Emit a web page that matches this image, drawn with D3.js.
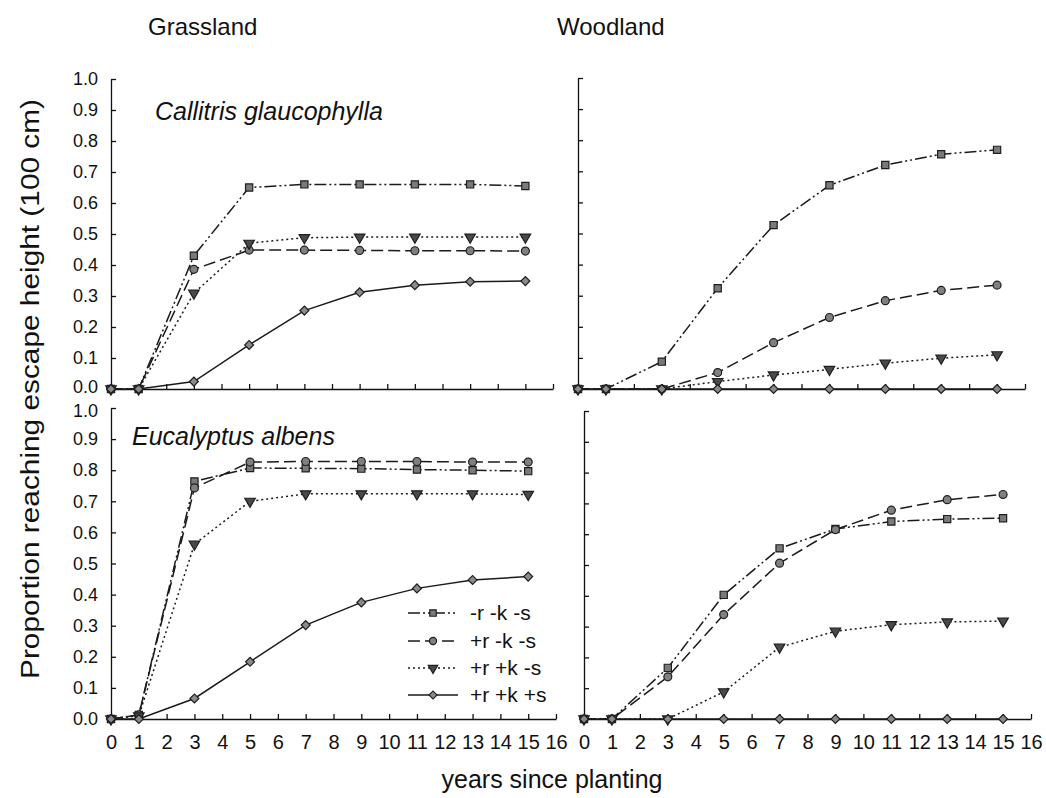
<!DOCTYPE html>
<html>
<head>
<meta charset="utf-8">
<script src="https://cdn.jsdelivr.net/npm/d3@7"></script>
<style>
  body { margin: 0; background: #fff; }
  text { font-family: "Liberation Sans", Arial, sans-serif; fill: #111; }
</style>
</head>
<body>
<div id="chart"></div>
<script>
var w = 1046;
var h = 798;

// years at which the model was sampled
var years = [0, 1, 3, 5, 7, 9, 11, 13, 15];
var treatments = ["-r -k -s", "+r -k -s", "+r +k -s", "+r +k +s"];
var yTicks = [0, 0.1, 0.2, 0.3, 0.4, 0.5, 0.6, 0.7, 0.8, 0.9, 1.0];
var xTicks = d3.range(0, 17);

// Callitris glaucophylla, grassland
var callGrass = [
    [0, 0, 0.43, 0.65, 0.66, 0.66, 0.66, 0.66, 0.655],
    [0, 0, 0.386, 0.448, 0.448, 0.447, 0.446, 0.446, 0.445],
    [0, 0, 0.309, 0.47, 0.488, 0.49, 0.49, 0.49, 0.49],
    [0, 0, 0.024, 0.142, 0.253, 0.312, 0.335, 0.346, 0.348]
];
// Callitris glaucophylla, woodland
var callWood = [
    [0, 0, 0.088, 0.324, 0.527, 0.655, 0.72, 0.755, 0.769],
    [0, 0, 0, 0.053, 0.149, 0.23, 0.284, 0.317, 0.334],
    [0, 0, 0, 0.024, 0.045, 0.063, 0.083, 0.099, 0.11],
    [0, 0, 0, 0, 0, 0, 0, 0, 0]
];
// Eucalyptus albens, grassland
var eucGrass = [
    [0, 0.013, 0.764, 0.807, 0.806, 0.805, 0.802, 0.8, 0.797],
    [0, 0.013, 0.743, 0.826, 0.828, 0.828, 0.828, 0.826, 0.826],
    [0, 0.01, 0.562, 0.7, 0.724, 0.724, 0.724, 0.724, 0.722],
    [0, 0, 0.066, 0.184, 0.302, 0.375, 0.42, 0.447, 0.458]
];
// Eucalyptus albens, woodland
var eucWood = [
    [0, 0, 0.166, 0.403, 0.554, 0.617, 0.641, 0.649, 0.652],
    [0, 0, 0.137, 0.339, 0.506, 0.615, 0.678, 0.712, 0.729],
    [0, 0, 0, 0.088, 0.233, 0.285, 0.306, 0.315, 0.318],
    [0, 0, 0, 0, 0, 0, 0, 0, 0]
];

var dashes = ["12,3,2,3,2,3", "12,5", "2,3", null];
// square, circle, down-triangle, diamond (square turned 45deg)
var symbols = [d3.symbolSquare, d3.symbolCircle, d3.symbolTriangle, d3.symbolSquare];
var symRot = [0, 0, 180, 45];
var symSize = [52, 50, 48, 40];
var symFill = ["#7a7a7a", "#808080", "#4a4a4a", "#8a8a8a"];

var panels = [
    { data: callGrass, xr: [111, 553], yr: [389, 79], xLabels: false, yLabels: true, top: true, species: "Callitris glaucophylla", sx: 155, sy: 120 },
    { data: callWood, xr: [578, 1025], yr: [389, 78], xLabels: false, yLabels: false },
    { data: eucGrass, xr: [111, 556], yr: [719, 408], xLabels: true, yLabels: true, top: false, species: "Eucalyptus albens", sx: 132, sy: 445, legend: true },
    { data: eucWood, xr: [584, 1031], yr: [719, 411], xLabels: true, yLabels: false }
];

function marker(sel, i, k) {
    sel.attr("d", d3.symbol().type(symbols[i]).size(symSize[i] * k))
        .attr("fill", symFill[i])
        .attr("stroke", "#1e1e1e")
        .attr("stroke-width", 1.2);
}

var svg = d3.select("#chart")
    .append("svg")
    .attr("width", w)
    .attr("height", h);

panels.forEach(function (p) {
    var xScale = d3.scaleLinear().domain([0, 16]).range(p.xr);
    var yScale = d3.scaleLinear().domain([0, 1]).range(p.yr);

    var xAxis = d3.axisBottom(xScale).tickValues(xTicks).tickSizeInner(-5).tickSizeOuter(0).tickPadding(16);
    if (!p.xLabels) xAxis.tickFormat("");
    var yAxis = d3.axisLeft(yScale).tickValues(yTicks).tickSizeInner(-5).tickSizeOuter(0).tickPadding(13)
        .tickFormat(d3.format(".1f"));
    if (!p.yLabels) yAxis.tickFormat("");

    var gx = svg.append("g")
        .attr("transform", "translate(0," + p.yr[0] + ")")
        .call(xAxis);
    gx.selectAll("text")
        .style("font-family", "'Liberation Sans Narrow', 'Liberation Sans', Arial, sans-serif")
        .style("font-size", "20px");
    var gy = svg.append("g")
        .attr("transform", "translate(" + p.xr[0] + ",0)")
        .call(yAxis);
    gy.selectAll("text").style("font-size", "18px");
    // keep the stacked 0.0 / 1.0 labels between the panels apart
    if (p.yLabels && p.top) gy.selectAll("text").filter(function (d) { return d === 0; }).attr("y", -2);
    if (p.yLabels && !p.top) gy.selectAll("text").filter(function (d) { return d === 1; }).attr("y", 3);
    svg.selectAll(".domain, .tick line").attr("stroke", "#111").attr("stroke-width", 1.3);

    var line = d3.line()
        .x(function (d) { return xScale(d[0]); })
        .y(function (d) { return yScale(d[1]); });

    p.data.forEach(function (vals, i) {
        var pts = years.map(function (yr, j) { return [yr, vals[j]]; });
        svg.append("path")
            .datum(pts)
            .attr("fill", "none")
            .attr("stroke", "#1a1a1a")
            .attr("stroke-width", 1.5)
            .attr("stroke-dasharray", dashes[i])
            .attr("d", line);
    });
    p.data.forEach(function (vals, i) {
        var pts = years.map(function (yr, j) { return [yr, vals[j]]; });
        svg.selectAll(null)
            .data(pts)
            .enter()
            .append("path")
            .attr("transform", function (d) {
                return "translate(" + xScale(d[0]) + "," + yScale(d[1]) + ") rotate(" + symRot[i] + ")";
            })
            .call(marker, i, 1);
    });

    if (p.species) {
        svg.append("text")
            .attr("x", p.sx)
            .attr("y", p.sy)
            .style("font-size", "25px")
            .style("font-style", "italic")
            .text(p.species);
    }

    if (p.legend) {
        var legY = [613, 641, 668, 695];
        treatments.forEach(function (t, i) {
            svg.append("line")
                .attr("x1", 408).attr("x2", 458)
                .attr("y1", legY[i]).attr("y2", legY[i])
                .attr("stroke", "#1a1a1a")
                .attr("stroke-width", 1.5)
                .attr("stroke-dasharray", dashes[i]);
            svg.append("path")
                .attr("transform", "translate(433," + legY[i] + ") rotate(" + symRot[i] + ")")
                .call(marker, i, 0.8);
            svg.append("text")
                .attr("x", 470)
                .attr("y", legY[i] + 7)
                .style("font-size", "21px")
                .text(t);
        });
    }
});

// panel headings
svg.append("text").attr("x", 148).attr("y", 35).style("font-size", "24px").text("Grassland");
svg.append("text").attr("x", 557).attr("y", 35).style("font-size", "24px").text("Woodland");

// axis titles
svg.append("text")
    .attr("transform", "translate(39,389) rotate(-90)")
    .attr("text-anchor", "middle")
    .attr("textLength", 580)
    .attr("lengthAdjust", "spacingAndGlyphs")
    .style("font-size", "26px")
    .text("Proportion reaching escape height (100 cm)");

svg.append("text")
    .attr("x", 552)
    .attr("y", 788)
    .attr("text-anchor", "middle")
    .style("font-size", "25px")
    .text("years since planting");
</script>
</body>
</html>
